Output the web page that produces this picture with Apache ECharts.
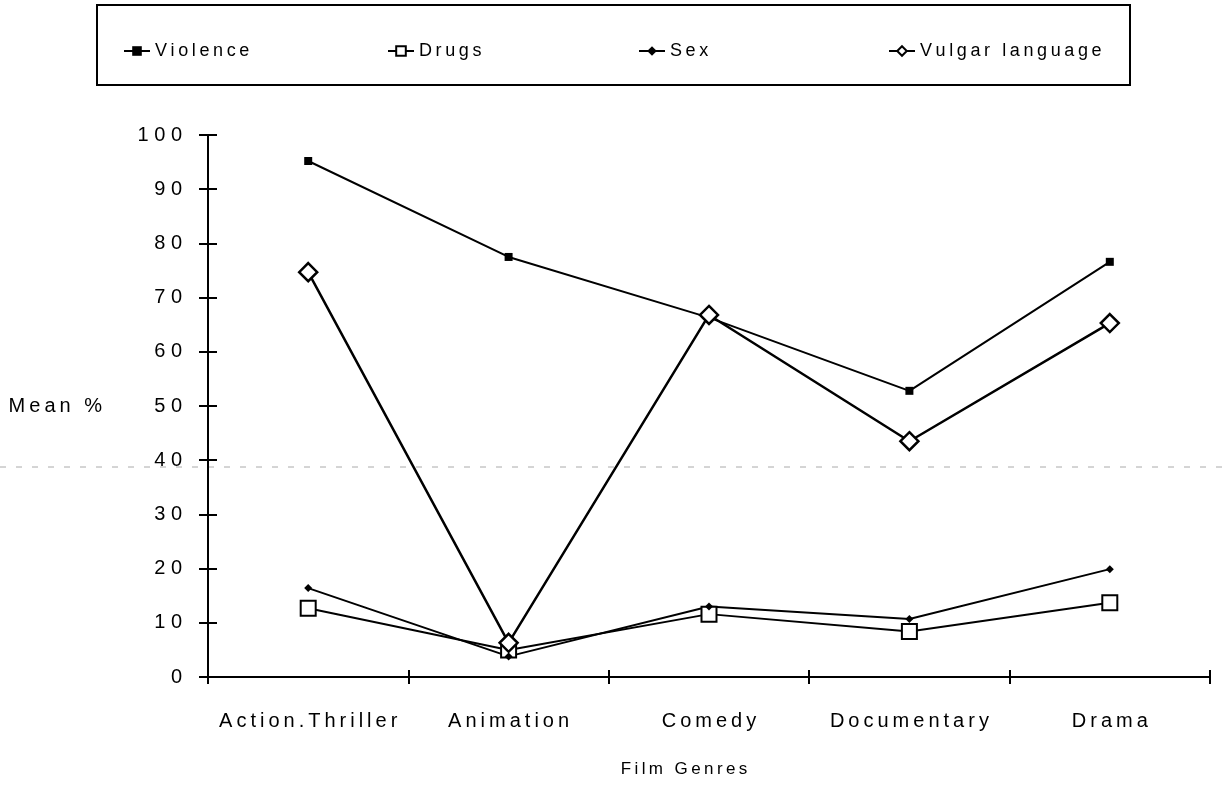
<!DOCTYPE html>
<html><head><meta charset="utf-8">
<script src="https://cdn.jsdelivr.net/npm/echarts@6/dist/echarts.min.js"></script>
<style>html,body{margin:0;padding:0;background:#fff}#c{width:1223px;height:787px}</style>
</head><body><div id="c"></div>
<script>
const categories = ['Action.Thriller', 'Animation', 'Comedy', 'Documentary', 'Drama'];
const violence = [95.2, 77.5, 66.3, 52.8, 76.6];
const drugs = [12.7, 5.0, 11.6, 8.4, 13.7];
const sex = [16.4, 3.8, 13.0, 10.7, 19.9];
const vulgar = [74.7, 6.3, 66.8, 43.5, 65.3];
const yTicks = [0, 10, 20, 30, 40, 50, 60, 70, 80, 90, 100];

const font = 'Liberation Sans, Arial, sans-serif';
const spaced = s => s.split('').join('\u2009');
const chart = echarts.init(document.getElementById('c'), null, {renderer: 'canvas'});

const base = {type: 'line', lineStyle: {color: '#000', width: 2}, itemStyle: {color: '#000'}, z: 3};
const series = [
  Object.assign({}, base, {name: 'Violence', data: violence, symbol: 'rect', symbolSize: 8}),
  Object.assign({}, base, {name: 'Drugs', data: drugs, symbol: 'rect', symbolSize: 15,
    itemStyle: {color: '#fff', borderColor: '#000', borderWidth: 2}}),
  Object.assign({}, base, {name: 'Sex', data: sex, symbol: 'diamond', symbolSize: 8}),
  Object.assign({}, base, {name: 'Vulgar language', data: vulgar, symbol: 'diamond', symbolSize: 18,
    lineStyle: {color: '#000', width: 2.5},
    itemStyle: {color: '#fff', borderColor: '#000', borderWidth: 2.5}})
];

function mkLegend(name, left) {
  return {data: [name], left: left, top: 37, itemWidth: 26, itemHeight: 12, itemGap: 0,
    formatter: spaced,
    textStyle: {fontFamily: font, fontSize: 18, color: '#000'}, selectedMode: false};
}

const tickLine = {color: '#000', width: 2};
chart.setOption({
  animation: false,
  backgroundColor: '#fff',
  textStyle: {fontFamily: font},
  graphic: [
    {type: 'rect', shape: {x: 97, y: 5, width: 1033, height: 80},
      style: {fill: 'none', stroke: '#000', lineWidth: 2}},
    {type: 'line', shape: {x1: 0, y1: 467, x2: 1223, y2: 467}, z: 0,
      style: {stroke: '#aaa', lineWidth: 1, lineDash: [6, 10]}}
  ],
  legend: [mkLegend('Violence', 118), mkLegend('Drugs', 382), mkLegend('Sex', 633), mkLegend('Vulgar language', 883)],
  grid: {left: 208, right: 13, top: 135, bottom: 110, containLabel: false},
  xAxis: [{
    type: 'category', data: categories, boundaryGap: true,
    name: spaced('Film Genres'), nameLocation: 'middle', nameGap: 84,
    nameTextStyle: {fontFamily: font, fontSize: 17, color: '#000', padding: [0, 50, 0, 0]},
    axisLine: {lineStyle: {color: '#000', width: 2}},
    axisTick: {show: true, length: 7, lineStyle: tickLine},
    axisLabel: {interval: 0, hideOverlap: false, margin: 34, fontFamily: font, fontSize: 20, color: '#000', formatter: spaced}
  }, {
    type: 'category', data: categories, boundaryGap: true, position: 'bottom',
    axisLine: {show: false},
    axisTick: {show: true, inside: true, length: 7, lineStyle: tickLine},
    axisLabel: {show: false}
  }],
  yAxis: [{
    type: 'value', min: 0, max: 100, interval: 10,
    name: 'M\u2009e\u2009a\u2009n\u2009 \u2009%', nameLocation: 'middle', nameRotate: 0, nameGap: 106,
    nameTextStyle: {fontFamily: font, fontSize: 20, color: '#000', align: 'right'},
    axisLine: {show: true, lineStyle: {color: '#000', width: 2}},
    axisTick: {show: true, length: 9, lineStyle: tickLine},
    splitLine: {show: false},
    axisLabel: {margin: 26, fontFamily: font, fontSize: 20, color: '#000',
      formatter: v => yTicks.indexOf(v) >= 0 ? String(v).split('').join(' ') : ''}
  }, {
    type: 'value', min: 0, max: 100, interval: 10, position: 'left',
    axisLine: {show: false},
    axisTick: {show: true, inside: true, length: 9, lineStyle: tickLine},
    splitLine: {show: false},
    axisLabel: {show: false}
  }],
  series: series
});
</script></body></html>
